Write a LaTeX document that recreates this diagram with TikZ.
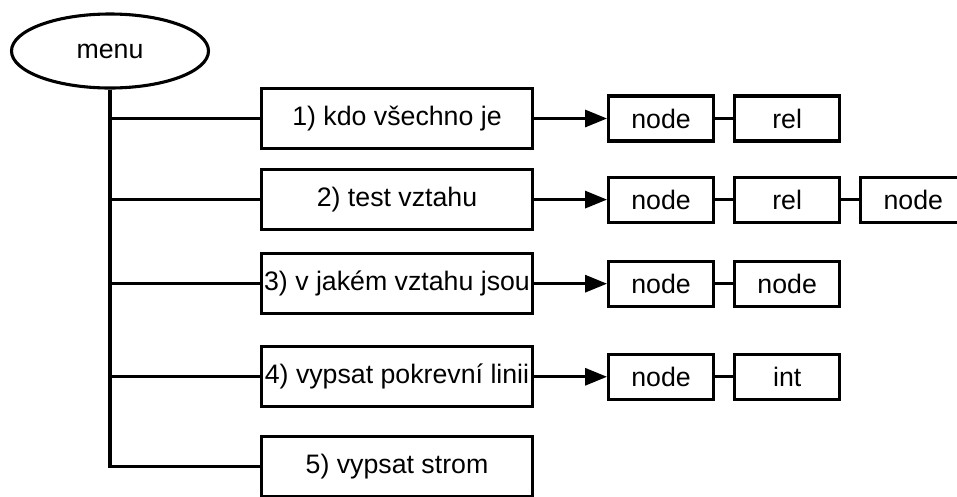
\documentclass[tikz,border=0pt]{standalone}
\usepackage{fontspec}
\setmainfont{Liberation Sans}
\usetikzlibrary{positioning, arrows.meta, shapes.geometric}

\begin{document}
\begin{tikzpicture}[font=\fontsize{19pt}{23pt}\selectfont, line width=2.2pt,
        polozka/.style={rectangle, draw=black, minimum width=6.775cm, minimum height=1.5cm, inner xsep=0pt},
        cell/.style={rectangle, draw=black, minimum width=2.625cm, minimum height=1.125cm},
        sipka/.style={-{Triangle[length=0.55cm, width=0.425cm]}},
        node distance=0cm]

        \useasboundingbox (0,0) rectangle (23.925,-12.4);

        % Menu
        \node[ellipse, draw=black, minimum width=4.925cm, minimum height=1.85cm] (menu) at (2.75,-1.275) {menu};

        % Polozky menu
        \node[polozka] (pol1) at (9.925,-2.9625) {1) kdo všechno je};
        \node[polozka, below=0.45cm of pol1] (pol2) {2) test vztahu};
        \node[polozka, below=0.525cm of pol2] (pol3) {3) v jakém vztahu jsou};
        \node[polozka, below=0.75cm of pol3] (pol4) {4) vypsat pokrevní linii};
        \node[polozka, below=0.675cm of pol4] (pol5) {5) vypsat strom};

        % Parametry
        \node[cell, right=1.825cm of pol1] (uzel1) {node};
        \node[cell, right=0.45cm of uzel1] (rel1) {rel};

        \node[cell, right=1.825cm of pol2] (uzel2) {node};
        \node[cell, right=0.45cm of uzel2] (rel2) {rel};
        \node[cell, right=0.45cm of rel2] (uzel2b) {node};

        \node[cell, right=1.825cm of pol3] (uzel3) {node};
        \node[cell, right=0.45cm of uzel3] (uzel3b) {node};

        \node[cell, right=1.825cm of pol4] (uzel4) {node};
        \node[cell, right=0.45cm of uzel4] (int4) {int};

        % Strom
        \draw (menu.south) |- (pol5.west);
        \draw (menu.south |- pol1.west) -- (pol1.west);
        \draw (menu.south |- pol2.west) -- (pol2.west);
        \draw (menu.south |- pol3.west) -- (pol3.west);
        \draw (menu.south |- pol4.west) -- (pol4.west);

        % Sipky
        \draw[sipka] (pol1.east) -- (uzel1.west);
        \draw[sipka] (pol2.east) -- (uzel2.west);
        \draw[sipka] (pol3.east) -- (uzel3.west);
        \draw[sipka] (pol4.east) -- (uzel4.west);

        % Spojky
        \draw (uzel1.east) -- (rel1.west);
        \draw (uzel2.east) -- (rel2.west);
        \draw (rel2.east) -- (uzel2b.west);
        \draw (uzel3.east) -- (uzel3b.west);
        \draw (uzel4.east) -- (int4.west);

      \end{tikzpicture}
\end{document}
